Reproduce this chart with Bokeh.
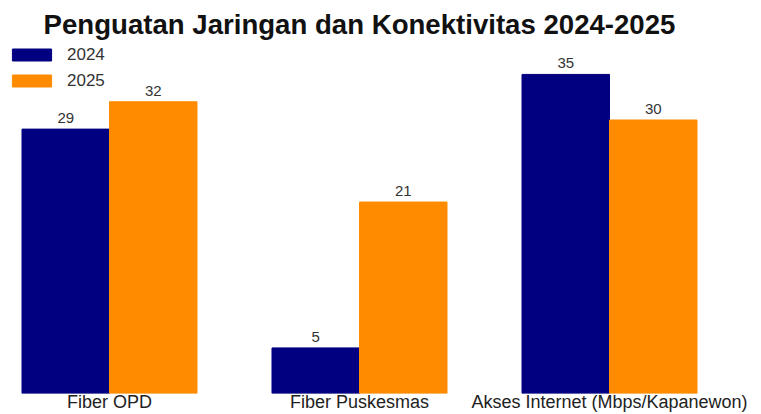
from bokeh.plotting import figure
from bokeh.models import ColumnDataSource, FactorRange, Range1d, LabelSet, Legend, LegendItem
from bokeh.transform import dodge
from bokeh.core.properties import value
from bokeh.embed import file_html
from bokeh.resources import INLINE

categories = ["Fiber OPD", "Fiber Puskesmas", "Akses Internet (Mbps/Kapanewon)"]
values_2024 = [29, 5, 35]
values_2025 = [32, 21, 30]
series_names = ["2024", "2025"]

src = ColumnDataSource(dict(
    cat=categories,
    v2024=values_2024,
    v2025=values_2025,
    t2024=[str(v) for v in values_2024],
    t2025=[str(v) for v in values_2025],
))

p = figure(
    width=761, height=414,
    x_range=FactorRange(factors=categories, range_padding=-0.04267),
    y_range=Range1d(0, 38.5),
    output_backend="svg", toolbar_location=None,
    min_border_left=0, min_border_right=43, min_border_top=42, min_border_bottom=0,
    title="Penguatan Jaringan dan Konektivitas 2024-2025",
)
p.title.align = "center"
p.title.text_font = "Liberation Sans"
p.title.text_font_size = "27.6px"
p.title.text_font_style = "bold"
p.title.text_color = "#111111"
p.title.standoff = 5

w = 0.35
r1 = p.vbar(x=dodge("cat", -w / 2, range=p.x_range), top="v2024", width=w, source=src,
            fill_color="#000080", line_color="#000080")
r2 = p.vbar(x=dodge("cat", w / 2, range=p.x_range), top="v2025", width=w, source=src,
            fill_color="#FF8C00", line_color="#FF8C00")

for col, txt, off in (("v2024", "t2024", -w / 2), ("v2025", "t2025", w / 2)):
    p.add_layout(LabelSet(x=dodge("cat", off, range=p.x_range), y=col, text=txt, source=src,
                          text_align="center", text_baseline="alphabetic", y_offset=6,
                          text_font=value("Liberation Sans"), text_font_size=value("15px"),
                          text_color="#333333"))

legend = Legend(items=[LegendItem(label=series_names[0], renderers=[r1]),
                       LegendItem(label=series_names[1], renderers=[r2])],
                location=(7, 302))
legend.margin = 0
legend.padding = 0
legend.border_line_color = None
legend.background_fill_alpha = 0
legend.glyph_width = 49
legend.glyph_height = 15
legend.label_height = 21
legend.spacing = 5
legend.label_standoff = 11
legend.label_text_font = "Liberation Sans"
legend.label_text_font_size = "17px"
legend.label_text_color = "#333333"
p.add_layout(legend)

p.yaxis.visible = False
p.xgrid.visible = False
p.ygrid.visible = False
p.xaxis.axis_line_color = None
p.xaxis.major_tick_line_color = None
p.xaxis.minor_tick_line_color = None
p.xaxis.major_tick_out = 0
p.xaxis.major_tick_in = 0
p.xaxis.minor_tick_out = 0
p.xaxis.major_label_standoff = -2
p.xaxis.major_label_text_font = "Liberation Sans"
p.xaxis.major_label_text_font_size = "18px"
p.xaxis.major_label_text_color = "#222222"
p.outline_line_color = None

open("out.html", "w").write(file_html(p, INLINE))
